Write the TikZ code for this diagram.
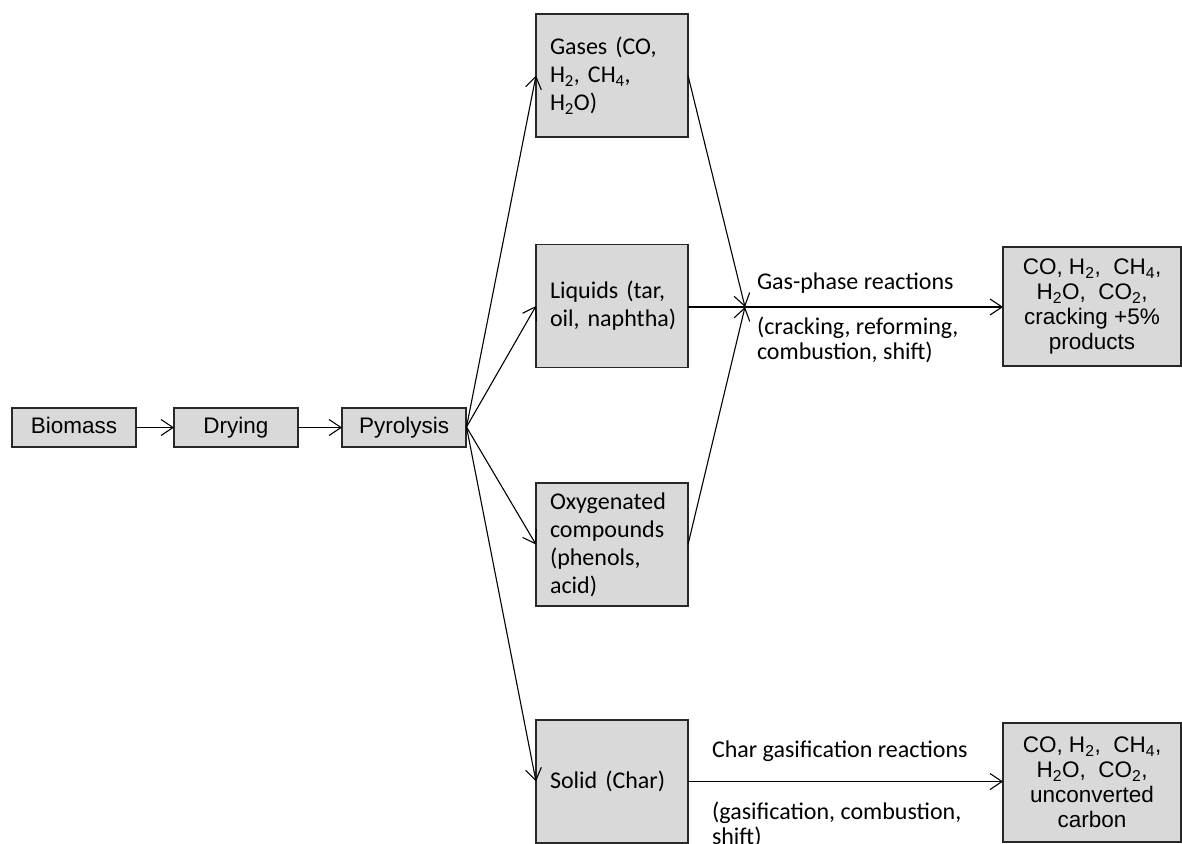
\documentclass[tikz,border=0pt]{standalone}
\usepackage{fontspec}
\setmainfont{Liberation Sans}
\newfontfamily\calfont{Carlito}
\usetikzlibrary{arrows.meta}
\definecolor{boxgray}{RGB}{217,217,217}
\definecolor{edgegray}{RGB}{40,40,40}
\hfuzz=30pt
\begin{document}
\begin{tikzpicture}[x=1pt,y=-1pt,
  every node/.style={inner sep=0pt, outer sep=0pt},
  basebox/.style={draw=edgegray, line width=1.3pt, fill=boxgray},
  flowbox/.style={basebox, minimum width=124pt, minimum height=39pt,
    text height=16pt, text depth=4pt,
    font=\fontsize{22.5}{26}\selectfont},
  phasebox/.style={basebox, minimum width=152pt, minimum height=123pt,
    text width=124pt, inner xsep=14pt, align=left,
    font=\calfont\fontsize{24}{28}\selectfont},
  resultbox/.style={basebox, minimum width=178pt, minimum height=119pt,
    align=center, font=\fontsize{22.5}{25}\selectfont},
  note/.style={anchor=west, align=left,
    font=\calfont\fontsize{24}{25}\selectfont},
  flow/.style={line width=1.1pt, draw=black,
    -{Straight Barb[length=12pt,width=16pt,line width=1.1pt]}},
  plain/.style={line width=1.1pt, draw=black}]
\useasboundingbox (0,0) rectangle (1182,843);

% main sequence
\node[flowbox] (bio) at (74,427.5) {Biomass};
\node[flowbox] (dry) at (236,427.5) {Drying};
\node[flowbox] (pyr) at (404,427.5) {Pyrolysis};

% pyrolysis products
\node[phasebox] (gas) at (612,75.5) {Gases (CO,\\H\textsubscript{2}, CH\textsubscript{4},\\H\textsubscript{2}O)};
\node[phasebox] (liq) at (612,306) {Liquids (tar,\\\mbox{oil, naphtha)}};
\node[phasebox] (oxy) at (612,544.5) {Oxygenated\\compounds\\(phenols,\\acid)};
\node[phasebox] (sol) at (612,781.5) {Solid (Char)};

% final products
\node[resultbox] (res1) at (1092,306.5) {CO, H\textsubscript{2}, \ CH\textsubscript{4},\\H\textsubscript{2}O, \ CO\textsubscript{2},\\cracking +5\%\\products};
\node[resultbox] (res2) at (1092,782.5) {CO, H\textsubscript{2}, \ CH\textsubscript{4},\\H\textsubscript{2}O, \ CO\textsubscript{2},\\unconverted\\carbon};

% junction of the gas-phase reactions
\coordinate (gp) at (745,307);
\coordinate (pyrout) at (466.5,427);

% connectors
\draw[flow] (bio) -- (dry);
\draw[flow] (dry) -- (pyr);
\draw[flow] (pyrout) -- (gas.west);
\draw[flow] (pyrout) -- (liq.west);
\draw[flow] (pyrout) -- (oxy.west);
\draw[flow] (pyrout) -- (sol.west);
\draw[flow] (gas.east) -- (gp);
\draw[flow] (oxy.east) -- (gp);
\draw[plain] (liq.east |- gp) -- (gp);
\draw[flow] (gp) -- (res1.west |- gp);
\draw[flow] (sol.east) -- (res2.west |- sol.east);

% reaction labels
\node[note] (gptitle) at (757,283) {Gas-phase reactions};
\node[note] (gpdesc) at (757,340) {(cracking, reforming,\\combustion, shift)};
\node[note] (chtitle) at (712,751) {Char gasification reactions};
\node[note] (chdesc) at (712,825) {(gasification, combustion,\\shift)};
\end{tikzpicture}
\end{document}
